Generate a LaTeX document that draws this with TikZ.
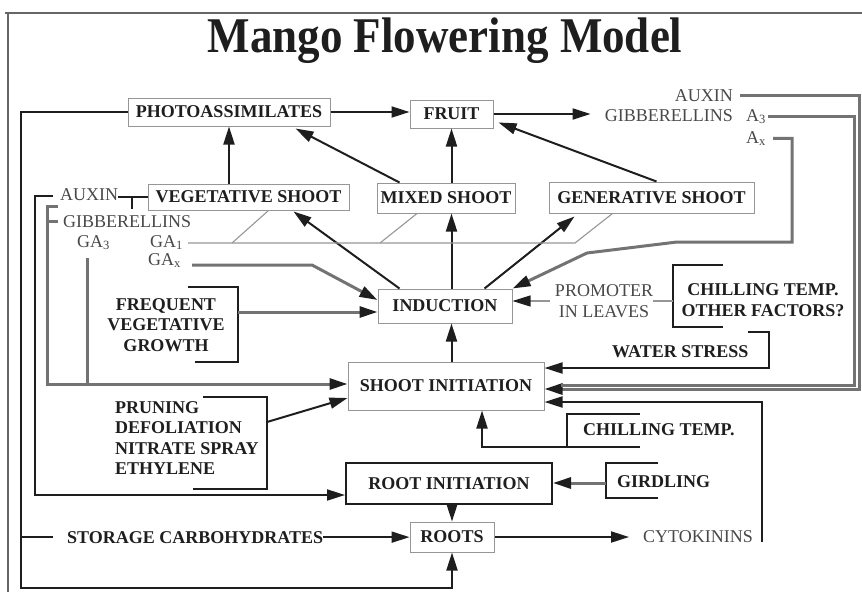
\documentclass[tikz,border=0pt]{standalone}
\usepackage{fontspec}
\setmainfont{Liberation Serif}
\usepackage{tikz}
\usetikzlibrary{arrows.meta, calc}
\definecolor{inkdark}{RGB}{30,30,30}
\definecolor{inkgray}{RGB}{72,72,72}
\definecolor{framegray}{RGB}{150,150,150}

\begin{document}
\begin{tikzpicture}[x=1pt, y=-1pt,
    every node/.style={font=\fontsize{18}{20.5}\selectfont},
    box/.style={draw=framegray, line width=1pt, fill=white, text=inkdark,
                font=\fontsize{18}{20.5}\selectfont\bfseries, inner sep=0pt},
    lbl/.style={text=inkdark, font=\fontsize{18}{20.5}\selectfont\bfseries, inner sep=0pt},
    hlbl/.style={text=inkgray, inner sep=0pt},
    flow/.style={draw=inkdark, line width=2pt},
    hflow/.style={draw=black!55, line width=3pt},
    thinflow/.style={draw=framegray, line width=1.1pt},
    arrowhd/.style={-{Triangle[length=18pt,width=11pt,color=inkdark]}}]
    \useasboundingbox (0,0) rectangle (862,592);

    % Frame and title
    \draw[black!60, line width=1.2pt] (5,13) -- (862,13);
    \draw[black!60, line width=1.2pt] (8,13) -- (8,592);
    \node[font=\fontsize{50}{55}\selectfont\bfseries, text=inkdark, xscale=0.9, anchor=base] (title) at (445,52) {Mango Flowering Model};

    % Boxes
    \node[box, minimum width=202pt, minimum height=28pt] (photo) at (229,112) {PHOTOASSIMILATES};
    \node[box, minimum width=83pt, minimum height=28pt] (fruit) at (451.5,114) {FRUIT};
    \node[box, minimum width=201pt, minimum height=26pt] (veg) at (248.5,197) {VEGETATIVE SHOOT};
    \node[box, minimum width=138pt, minimum height=30pt] (mixed) at (446,198) {MIXED SHOOT};
    \node[box, minimum width=205pt, minimum height=31pt] (gen) at (651.5,197.5) {GENERATIVE SHOOT};
    \node[box, minimum width=134pt, minimum height=34pt] (induction) at (445,306) {INDUCTION};
    \node[box, minimum width=196pt, minimum height=48pt] (si) at (446,386) {SHOOT INITIATION};
    \node[box, draw=inkdark, line width=2pt, minimum width=206pt, minimum height=41pt] (rootinit) at (449,483.5) {ROOT INITIATION};
    \node[box, minimum width=84pt, minimum height=30pt] (roots) at (452,537) {ROOTS};

    % Hormones
    \node[hlbl, anchor=base east] (auxR) at (733,101) {AUXIN};
    \node[hlbl, anchor=base east] (gibR) at (733,121) {GIBBERELLINS};
    \node[hlbl, anchor=base west] (a3) at (746,121) {A\textsubscript{3}};
    \node[hlbl, anchor=base west] (ax) at (746,143) {A\textsubscript{x}};
    \node[hlbl, anchor=base west] (auxL) at (60,200) {AUXIN};
    \node[hlbl, anchor=base west] (gibL) at (63,227) {GIBBERELLINS};
    \node[hlbl, anchor=base west] (ga3) at (77,247) {GA\textsubscript{3}};
    \node[hlbl, anchor=base west] (ga1) at (150,247) {GA\textsubscript{1}};
    \node[hlbl, anchor=base west] (gax) at (148,265) {GA\textsubscript{x}};
    \node[hlbl, align=center] (promoter) at (604,301) {PROMOTER\\IN LEAVES};
    \node[hlbl, anchor=base west] (cyto) at (643,542) {CYTOKININS};

    % Factors
    \node[lbl, align=center] (freq) at (166,325) {FREQUENT\\VEGETATIVE\\GROWTH};
    \node[lbl, align=left, anchor=west] (prune) at (115,438) {PRUNING\\DEFOLIATION\\NITRATE SPRAY\\ETHYLENE};
    \node[lbl, align=center] (chill) at (763,300) {CHILLING TEMP.\\OTHER FACTORS?};
    \node[lbl, anchor=base west] (water) at (612,357) {WATER STRESS};
    \node[lbl, anchor=base west] (chillB) at (583,435) {CHILLING TEMP.};
    \node[lbl, anchor=base west] (gird) at (617,487) {GIRDLING};
    \node[lbl, anchor=base west] (storage) at (67,543) {STORAGE CARBOHYDRATES};

    % Bends
    \coordinate (loopT) at (21,112);
    \coordinate (loopB) at (21,588);
    \coordinate (auxB) at (35,495);
    \coordinate (gibT) at (47,206);
    \coordinate (gibB) at (47,384);
    \coordinate (ga3T) at (87,258);
    \coordinate (ga1L) at (188,243);
    \coordinate (ga1R) at (575,243);
    \coordinate (gaxL) at (192,265);
    \coordinate (gaxK) at (312,265);
    \coordinate (freqNE) at (238,287);
    \coordinate (freqM) at (238,312);
    \coordinate (freqSE) at (238,362);
    \coordinate (pruNE) at (267,397);
    \coordinate (pruM) at (267,422);
    \coordinate (pruSE) at (267,489);
    \coordinate (chilNW) at (673,265);
    \coordinate (chilSW) at (673,327);
    \coordinate (watNE) at (769,332);
    \coordinate (watSE) at (769,368);
    \coordinate (auxRT) at (859,95);
    \coordinate (auxRB) at (859,389);
    \coordinate (a3RT) at (854,116);
    \coordinate (a3RB) at (854,385);
    \coordinate (axT) at (792,140);
    \coordinate (axB) at (792,242);
    \coordinate (axL) at (677,242);
    \coordinate (axK) at (587,253);
    \coordinate (chiNW) at (567,414);
    \coordinate (chiSW) at (567,447);
    \coordinate (chiK) at (482,447);
    \coordinate (cytB) at (762,542);
    \coordinate (cytT) at (762,402);
    \coordinate (girNW) at (606,463);
    \coordinate (girM) at (606,483);
    \coordinate (girSW) at (606,498);

    % Shoots to photoassimilates and fruit
    \draw[flow,arrowhd] (photo.east) -- (photo.east -| fruit.west);
    \draw[flow,arrowhd,shorten >=14pt] (fruit.east) -- (fruit.east -| gibR.west);
    \draw[flow,arrowhd] (veg.north -| photo.south) -- (photo.south);
    \draw[flow,arrowhd] ($(mixed.north west)+(23,0)$) -- ($(photo.south east)+(-35,2)$);
    \draw[flow,arrowhd] (mixed.north -| fruit.south) -- (fruit.south);
    \draw[flow,arrowhd] ($(gen.north)+(5,0)$) -- ($(fruit.south east)+(5,-6)$);

    % Induction to the shoots
    \draw[flow,arrowhd] ($(induction.north west)+(22,0)$) -- ($(veg.south east)+(-56,1)$);
    \draw[flow,arrowhd] (induction.north -| fruit.south) -- (mixed.south -| fruit.south);
    \draw[flow,arrowhd] ($(induction.north west)+(107,0)$) -- ($(gen.south west)+(26,3)$);
    \draw[flow,arrowhd] (si.north -| fruit.south) -- (induction.south -| fruit.south);

    % Roots
    \draw[flow,arrowhd] (rootinit.south -| roots.north) -- (roots.north);
    \draw[flow,arrowhd,shorten >=14pt] (roots.east) -- (roots.east -| cyto.west);
    \draw[flow,arrowhd] (storage.east) -- (storage.east -| roots.west);
    \draw[flow,arrowhd] (photo.west) -- (photo.west -| loopT) -- (loopB) -- (loopB -| roots.south) -- (roots.south);
    \draw[flow] (storage.west -| loopT) -- ($(storage.west)+(-14,0)$);

    % Auxin and gibberellins on the left
    \draw[flow,arrowhd] ($(auxL.west)+(-7,2)$) -- ($(auxL.west -| auxB)+(0,2)$) -- (auxB) -- (auxB -| rootinit.west);
    \draw[flow] (auxL.east |- veg.west) -- (veg.west);
    \draw[flow] ($(auxL.east |- veg.west)!0.47!(veg.west)$) -- ++(0,12);
    \draw[hflow,arrowhd] ($(gibT)+(11,0)$) -- (gibT) -- (gibB) -- (gibB -| si.west);
    \draw[hflow] (gibL.west -| gibT) -- ($(gibL.west)+(-5,0)$);
    \draw[hflow] (ga3T) -- (ga3T |- gibB);
    \draw[thinflow] (ga1L) -- (ga1R) -- ($(gen.south west)+(64,0)$);
    \draw[thinflow] ($(ga1L)+(44,0)$) -- ($(veg.south)+(20,0)$);
    \draw[thinflow] ($(ga1L)+(192,0)$) -- ($(mixed.south)+(-29,0)$);
    \draw[hflow,arrowhd] (gaxL) -- (gaxK) -- ($(induction.west)+(0,-6)$);

    % Frequent growth and pruning
    \draw[flow] ($(freqNE)+(-50,0)$) -- (freqNE) -- (freqSE) -- ($(freqSE)+(-43,0)$);
    \draw[hflow,arrowhd] (freqM) -- (freqM -| induction.west);
    \draw[flow] ($(pruNE)+(-64,0)$) -- (pruNE) -- (pruSE) -- ($(pruSE)+(-74,0)$);
    \draw[flow,arrowhd] (pruM) -- ($(si.west)+(0,12)$);

    % Promoter, chilling and water stress
    \draw[flow] ($(chilNW)+(50,0)$) -- (chilNW) -- (chilSW) -- ($(chilSW)+(50,0)$);
    \draw[thinflow] (promoter.east) -- (promoter.east -| chilNW);
    \draw[thinflow,arrowhd] ($(promoter.west)+(-5,0)$) -- (promoter.west -| induction.east);
    \draw[flow,arrowhd] ($(watNE)+(-21,0)$) -- (watNE) -- (watSE) -- (watSE -| si.east);
    \draw[flow] ($(chiNW)+(73,0)$) -- (chiNW) -- (chiSW) -- ($(chiSW)+(73,0)$);
    \draw[flow,arrowhd] (chiSW) -- (chiK) -- (chiK |- si.south);
    \draw[flow,arrowhd] (cytB) -- (cytT) -- (cytT -| si.east);

    % Hormones from the fruit
    \draw[hflow,arrowhd] ($(auxR.east)+(7,0)$) -- (auxR.east -| auxRT) -- (auxRB) -- (auxRB -| si.east);
    \draw[hflow] ($(a3.east)+(2,0)$) -- (a3.east -| a3RT) -- (a3RB) -- ($(a3RB -| si.east)+(16,0)$);
    \draw[hflow,arrowhd] ($(ax.east)+(7,0)$) -- (ax.east -| axT) -- (axB) -- (axL) -- (axK) -- (induction.north east);

    % Girdling
    \draw[flow] ($(girNW)+(52,0)$) -- (girNW) -- (girSW) -- ($(girSW)+(52,0)$);
    \draw[hflow,arrowhd] (girM) -- (girM -| rootinit.east);
\end{tikzpicture}
\end{document}
